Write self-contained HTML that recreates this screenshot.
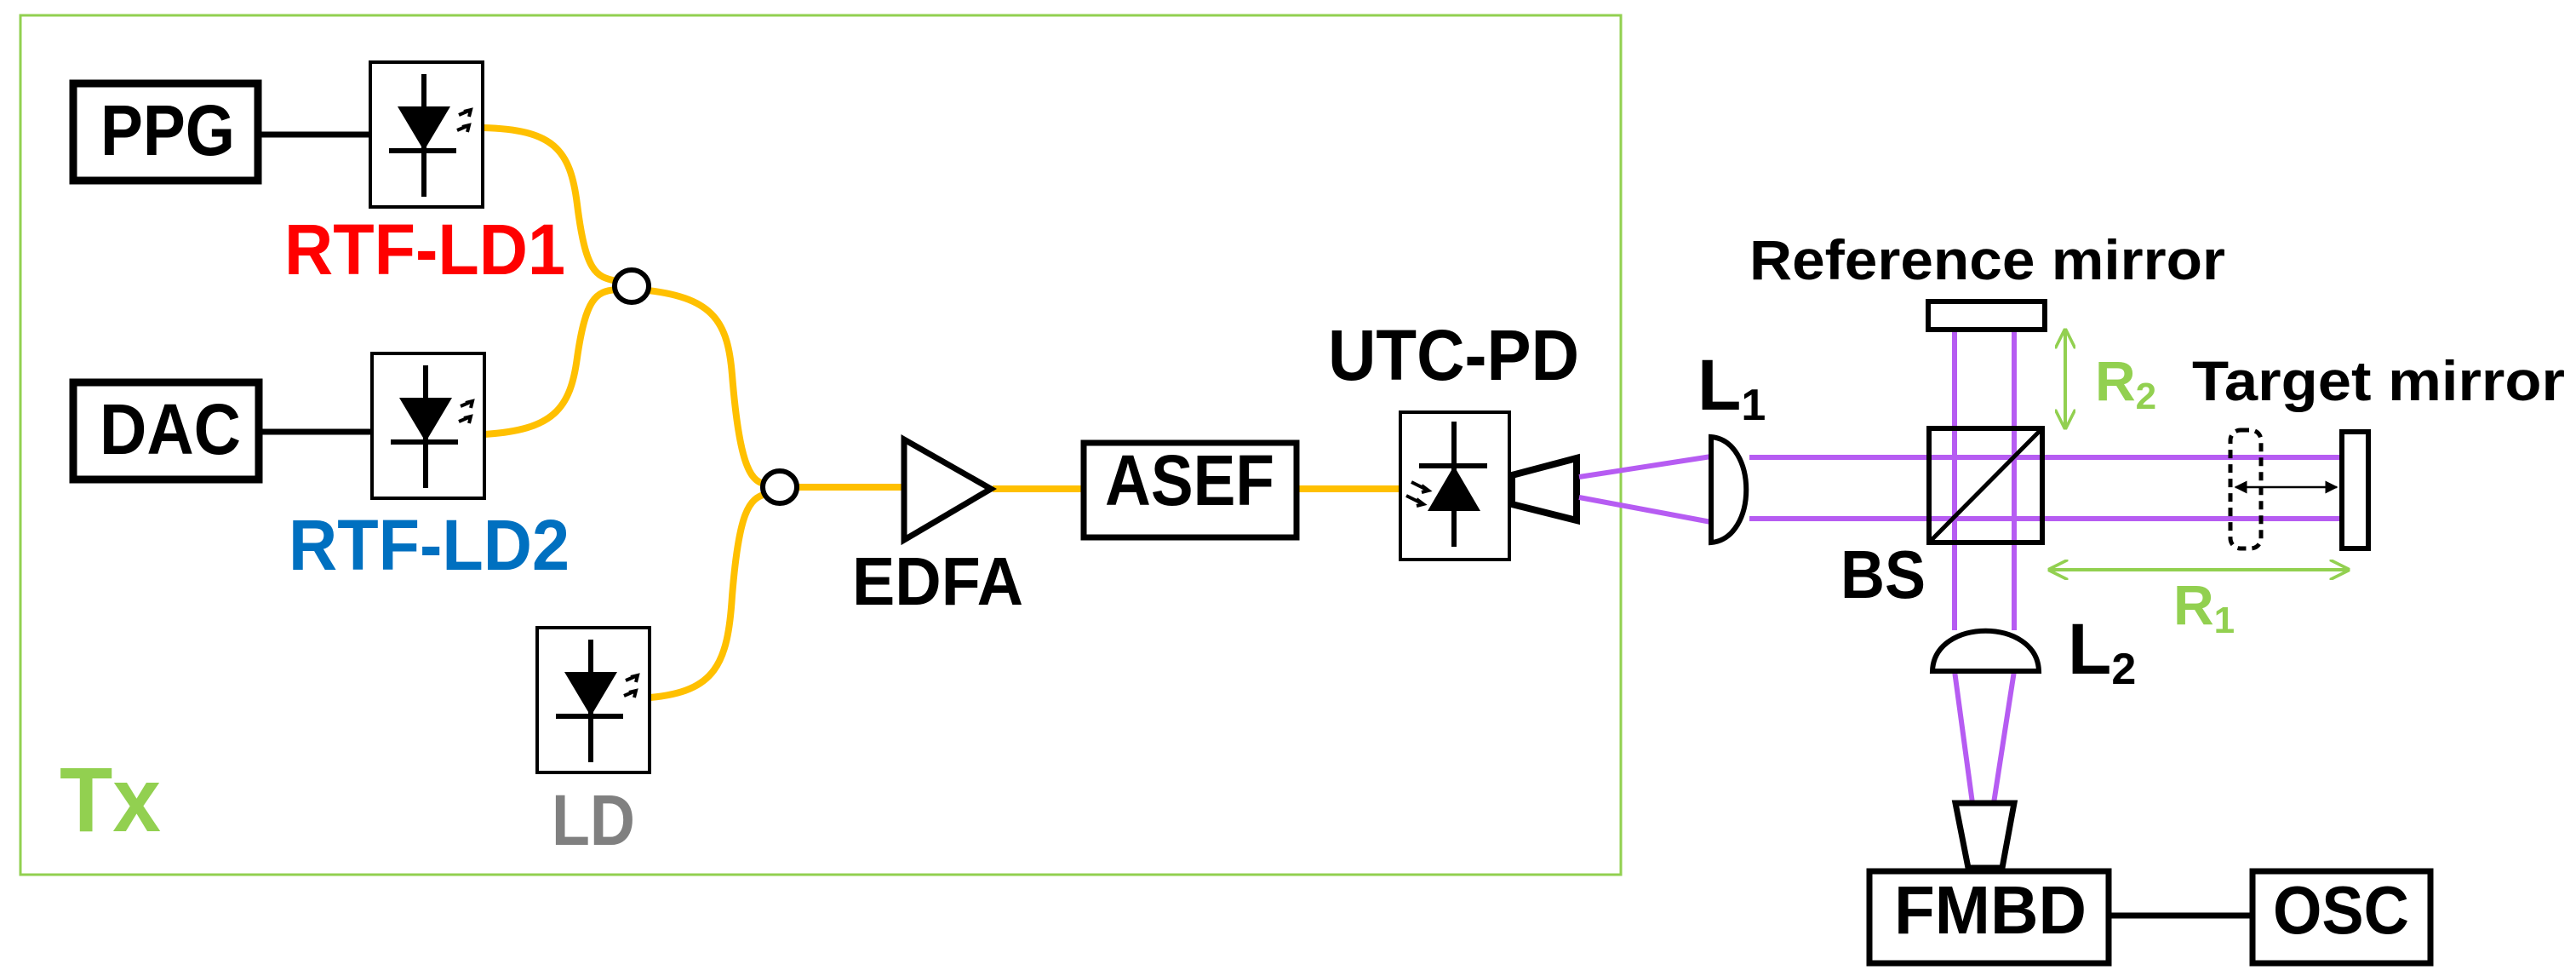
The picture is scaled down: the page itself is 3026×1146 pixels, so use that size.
<!DOCTYPE html>
<html><head><meta charset="utf-8"><style>html,body{margin:0;padding:0;background:#fff}svg{display:block}text{font-family:"Liberation Sans",sans-serif;font-weight:bold}</style></head>
<body>
<svg width="3026" height="1146" viewBox="0 0 3026 1146" xmlns="http://www.w3.org/2000/svg">
<defs>
<g id="ld">
<rect x="0" y="0" width="132" height="170" fill="#fff" stroke="#000" stroke-width="4"/>
<line x1="63" y1="14" x2="63" y2="158" stroke="#000" stroke-width="6"/>
<polygon points="32,52 94,52 63,104" fill="#000"/>
<line x1="22" y1="104" x2="101" y2="104" stroke="#000" stroke-width="6"/>
<path d="M104,62 L118,56 M110,58 L118,56 L116,64 M102,80 L116,74 M108,76 L116,74 L114,82" stroke="#000" stroke-width="4" fill="none"/>
</g>
<marker id="ga" viewBox="0 0 10 10" refX="9" refY="5" markerWidth="6" markerHeight="6" orient="auto-start-reverse"><path d="M0,0 L10,5 L0,10" fill="none" stroke="#92d050" stroke-width="1.5"/></marker>
<marker id="ba" viewBox="0 0 10 10" refX="9" refY="5" markerWidth="6" markerHeight="6" orient="auto-start-reverse"><path d="M0,0 L10,5 L0,10 z" fill="#000"/></marker>
</defs>

<rect x="24" y="18" width="1880" height="1009" fill="none" stroke="#92d050" stroke-width="3"/>
<text x="70" y="976" font-size="108" fill="#92d050" textLength="119" lengthAdjust="spacingAndGlyphs">Tx</text>

<g fill="none" stroke="#ffc000" stroke-width="8">
<path d="M567,150 C650,152 670,175 678,240 C688,320 700,325 724,330"/>
<path d="M569,510 C650,505 670,480 678,420 C688,350 700,342 724,340"/>
<path d="M761,341 C840,350 855,380 860,440 C868,540 880,565 898,568"/>
<path d="M764,819 C840,812 855,780 860,700 C868,600 880,585 900,580"/>
<line x1="935" y1="572" x2="1060" y2="572"/>
<line x1="1166" y1="574" x2="1270" y2="574"/>
<line x1="1524" y1="574" x2="1645" y2="574"/>
</g>

<line x1="303" y1="158" x2="436" y2="158" stroke="#000" stroke-width="7"/>
<line x1="304" y1="507" x2="437" y2="507" stroke="#000" stroke-width="7"/>

<rect x="86" y="98" width="217" height="114" fill="#fff" stroke="#000" stroke-width="9"/>
<text x="118" y="182" font-size="84" textLength="158" lengthAdjust="spacingAndGlyphs">PPG</text>
<rect x="86" y="449" width="218" height="114" fill="#fff" stroke="#000" stroke-width="9"/>
<text x="117" y="533" font-size="84" textLength="166" lengthAdjust="spacingAndGlyphs">DAC</text>

<use href="#ld" x="435" y="73"/>
<use href="#ld" x="437" y="415"/>
<use href="#ld" x="631" y="737"/>

<text x="334" y="322" font-size="84" fill="#ff0000" textLength="330" lengthAdjust="spacingAndGlyphs">RTF-LD1</text>
<text x="339" y="669" font-size="84" fill="#0070c0" textLength="330" lengthAdjust="spacingAndGlyphs">RTF-LD2</text>
<text x="648" y="992" font-size="84" fill="#808080" textLength="98" lengthAdjust="spacingAndGlyphs">LD</text>

<ellipse cx="742" cy="336" rx="20" ry="19" fill="#fff" stroke="#000" stroke-width="6"/>
<ellipse cx="916" cy="572" rx="20" ry="19" fill="#fff" stroke="#000" stroke-width="6"/>

<polygon points="1062,516 1164,574 1062,634" fill="#fff" stroke="#000" stroke-width="7"/>
<text x="1001" y="710" font-size="80" textLength="201" lengthAdjust="spacingAndGlyphs">EDFA</text>

<rect x="1273" y="520" width="250" height="111" fill="#fff" stroke="#000" stroke-width="7"/>
<text x="1298" y="593" font-size="84" textLength="199" lengthAdjust="spacingAndGlyphs">ASEF</text>

<text x="1560" y="446" font-size="84" textLength="295" lengthAdjust="spacingAndGlyphs">UTC-PD</text>
<rect x="1645" y="484" width="128" height="173" fill="#fff" stroke="#000" stroke-width="4"/>
<line x1="1708" y1="495" x2="1708" y2="642" stroke="#000" stroke-width="6"/>
<line x1="1667" y1="547" x2="1747" y2="547" stroke="#000" stroke-width="6"/>
<polygon points="1708,547 1677,600 1739,600" fill="#000"/>
<path d="M1658,566 L1678,576 M1670,570 L1678,576 L1670,578 M1652,582 L1672,592 M1664,586 L1672,592 L1664,594" stroke="#000" stroke-width="4" fill="none"/>
<polygon points="1776,558 1852,538 1852,611 1776,592" fill="#fff" stroke="#000" stroke-width="8"/>

<g stroke="#b65cf2" stroke-width="6" fill="none">
<line x1="1855" y1="560" x2="2010" y2="536"/>
<line x1="1855" y1="584" x2="2010" y2="613"/>
<line x1="2055" y1="537" x2="2750" y2="537"/>
<line x1="2055" y1="609" x2="2750" y2="609"/>
<line x1="2296" y1="387" x2="2296" y2="740"/>
<line x1="2366" y1="387" x2="2366" y2="740"/>
<line x1="2296" y1="788" x2="2317" y2="943"/>
<line x1="2366" y1="788" x2="2342" y2="943"/>
</g>

<path d="M2010,513 C2065,518 2065,632 2010,637 Z" fill="#fff" stroke="#000" stroke-width="6"/>
<text x="1994" y="481" font-size="84">L<tspan font-size="52" dy="12">1</tspan></text>

<rect x="2266" y="503" width="133" height="134" fill="none" stroke="#000" stroke-width="6"/>
<line x1="2266" y1="637" x2="2399" y2="503" stroke="#000" stroke-width="5"/>
<text x="2162" y="702" font-size="80" textLength="100" lengthAdjust="spacingAndGlyphs">BS</text>

<rect x="2265" y="354" width="137" height="33" fill="#fff" stroke="#000" stroke-width="6"/>
<text x="2055" y="328" font-size="66" textLength="559" lengthAdjust="spacingAndGlyphs">Reference mirror</text>
<line x1="2426" y1="388" x2="2426" y2="502" stroke="#92d050" stroke-width="4" marker-start="url(#ga)" marker-end="url(#ga)"/>
<text x="2461" y="470" font-size="66" fill="#92d050">R<tspan font-size="44" dy="10">2</tspan></text>

<text x="2575" y="470" font-size="66" textLength="438" lengthAdjust="spacingAndGlyphs">Target mirror</text>
<rect x="2751" y="507" width="31" height="137" fill="#fff" stroke="#000" stroke-width="6"/>
<rect x="2620" y="505" width="36" height="139" rx="12" fill="none" stroke="#000" stroke-width="5" stroke-dasharray="10,7"/>
<line x1="2626" y1="572" x2="2745" y2="572" stroke="#000" stroke-width="2.5" marker-start="url(#ba)" marker-end="url(#ba)"/>
<line x1="2408" y1="669" x2="2758" y2="669" stroke="#92d050" stroke-width="4" marker-start="url(#ga)" marker-end="url(#ga)"/>
<text x="2553" y="733" font-size="66" fill="#92d050">R<tspan font-size="44" dy="10">1</tspan></text>

<path d="M2270,788 C2272,725 2393,725 2395,788 Z" fill="#fff" stroke="#000" stroke-width="6"/>
<text x="2429" y="791" font-size="84">L<tspan font-size="52" dy="12">2</tspan></text>

<polygon points="2297,943 2366,943 2352,1019 2312,1019" fill="#fff" stroke="#000" stroke-width="7"/>
<line x1="2478" y1="1075" x2="2643" y2="1075" stroke="#000" stroke-width="7"/>
<rect x="2196" y="1023" width="281" height="108" fill="#fff" stroke="#000" stroke-width="7"/>
<text x="2225" y="1096" font-size="80" textLength="226" lengthAdjust="spacingAndGlyphs">FMBD</text>
<rect x="2646" y="1023" width="209" height="108" fill="#fff" stroke="#000" stroke-width="7"/>
<text x="2670" y="1096" font-size="80" textLength="160" lengthAdjust="spacingAndGlyphs">OSC</text>
</svg>
</body></html>
